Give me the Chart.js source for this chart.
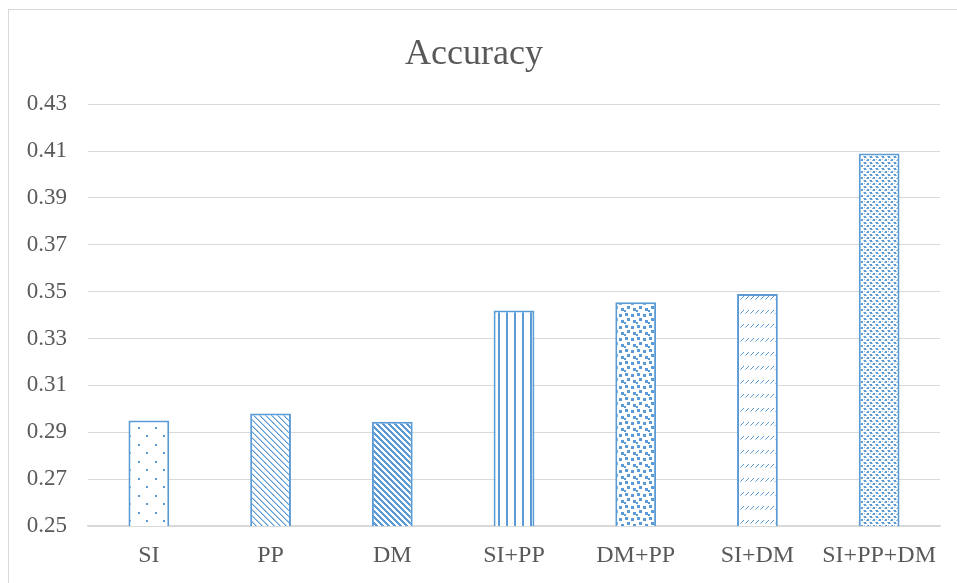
<!DOCTYPE html>
<html>
<head>
<meta charset="utf-8">
<script src="https://cdn.jsdelivr.net/npm/chart.js@4"></script>
<style>
  body { margin: 0; background: #fff; }
  #frame { position: absolute; left: 8px; top: 9px; width: 960px; height: 590px; border: 1px solid #d9d9d9; }
  #wrap { position: absolute; left: 0; top: 0; width: 957px; height: 583px; }
</style>
</head>
<body>
<div id="frame"></div>
<div id="wrap"><canvas id="plot1"></canvas></div>
<script>
const categorias = ['SI', 'PP', 'DM', 'SI+PP', 'DM+PP', 'SI+DM', 'SI+PP+DM'];
const accuracy = [0.295, 0.298, 0.2945, 0.342, 0.3455, 0.349, 0.409];
const yTicks = [0.25, 0.27, 0.29, 0.31, 0.33, 0.35, 0.37, 0.39, 0.41, 0.43];

const azul = '#5B9BD5';

// crea un patron a partir de un tile pequeño
let hacerPatron = (w, h, dibujar) => {
  const c = document.createElement('canvas');
  c.width = w; c.height = h;
  const ctx = c.getContext('2d');
  ctx.fillStyle = '#fff';
  ctx.fillRect(0, 0, w, h);
  ctx.fillStyle = azul;
  ctx.strokeStyle = azul;
  dibujar(ctx);
  return ctx.createPattern(c, 'repeat');
};

const patrones = [
  // puntos dispersos
  hacerPatron(17, 17, c => { c.fillRect(2, 2, 2, 2); c.fillRect(10, 10, 2, 2); }),
  // diagonal fina
  hacerPatron(6, 6, c => { for (let i = 0; i < 6; i++) c.fillRect(i, i, 1, 1); c.globalAlpha = 0.5; for (let i = 0; i < 6; i++) c.fillRect((i + 1) % 6, i, 1, 1); }),
  // diagonal gruesa
  hacerPatron(6, 6, c => { for (let i = 0; i < 6; i++) { c.fillRect(i, i, 1, 1); c.fillRect((i + 1) % 6, i, 1, 1); c.fillRect((i + 2) % 6, i, 1, 1); } }),
  // verticales
  hacerPatron(8, 8, c => { c.fillRect(2, 0, 2, 8); }),
  // confeti grande
  hacerPatron(12, 12, c => { c.fillRect(1, 1, 3, 3); c.fillRect(7, 2, 3, 3); c.fillRect(3, 6, 3, 3); c.fillRect(9, 8, 3, 3); c.fillRect(0, 10, 2, 2); }),
  // diagonal discontinua
  hacerPatron(5, 14, c => { c.fillRect(3, 2, 1, 1); c.fillRect(2, 3, 1, 1); c.fillRect(1, 4, 1, 1); c.globalAlpha = 0.6; c.fillRect(0, 5, 1, 1); }),
  // rejilla pequeña
  hacerPatron(6, 6, c => { c.fillRect(0, 0, 2, 2); c.fillRect(3, 3, 2, 2); c.globalAlpha = 0.6; c.fillRect(2, 1, 1, 1); c.fillRect(0, 3, 1, 1); c.fillRect(5, 0, 1, 1); c.fillRect(2, 4, 1, 1); })
];

Chart.defaults.font.family = '"Liberation Serif", "Times New Roman", serif';
Chart.defaults.color = '#595959';

let config = {
  type: 'bar',
  data: {
    labels: categorias,
    datasets: [{
      label: 'Accuracy',
      data: accuracy,
      backgroundColor: patrones,
      borderColor: azul,
      borderWidth: 2,
      borderSkipped: 'bottom',
      barPercentage: 0.335,
      categoryPercentage: 1.0
    }]
  },
  options: {
    responsive: false,
    animation: false,
    devicePixelRatio: 1,
    layout: { padding: { left: 8, right: 17, top: 0, bottom: 0 } },
    plugins: {
      legend: { display: false },
      tooltip: { enabled: false },
      title: {
        display: true,
        text: 'Accuracy',
        color: '#595959',
        font: { size: 36, weight: 'normal' },
        padding: { top: 33, bottom: 28 }
      }
    },
    scales: {
      x: {
        grid: { display: false },
        border: { color: '#d9d9d9', width: 1.5 },
        afterFit: axis => { axis.height = 57; },
        ticks: { font: { size: 24 }, color: '#595959', padding: 7 }
      },
      y: {
        min: 0.25,
        max: 0.43,
        afterBuildTicks: axis => { axis.ticks = yTicks.map(v => ({ value: v })); },
        afterFit: axis => { axis.width = 80; },
        grid: { color: '#d9d9d9', lineWidth: 1, drawTicks: false },
        border: { display: false },
        ticks: { font: { size: 23 }, color: '#595959', padding: 21, callback: v => v.toFixed(2) }
      }
    }
  }
};

let canvas = document.getElementById('plot1');
canvas.width = 957;
canvas.height = 583;
let chart1 = new Chart(canvas, config);
</script>
</body>
</html>
